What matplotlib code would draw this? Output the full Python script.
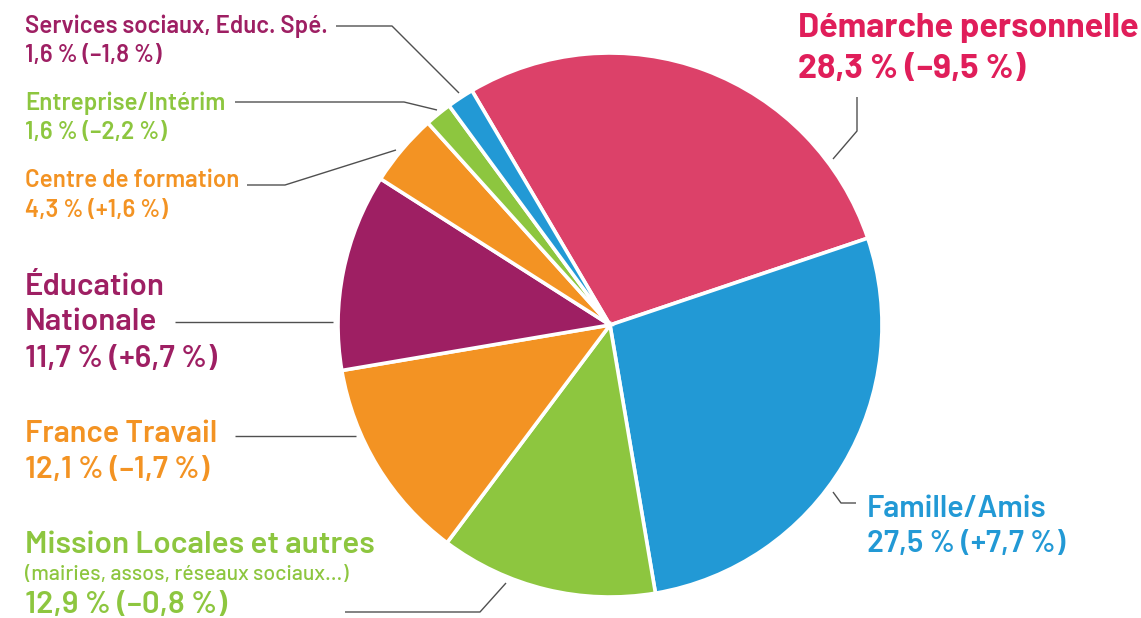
import matplotlib
matplotlib.use("Agg")
import matplotlib.pyplot as plt

# ---------------- data ----------------
categories = ["Démarche personnelle", "Famille/Amis", "Mission Locales et autres",
              "France Travail", "Éducation Nationale", "Centre de formation",
              "Entreprise/Intérim", "Services sociaux, Educ. Spé."]
shares = [28.3, 27.5, 12.9, 12.1, 11.7, 4.3, 1.6, 1.6]
changes = [-9.5, 7.7, -0.8, -1.7, 6.7, 1.6, -2.2, -1.8]
wedge_colors = ["#DC4169", "#2299D5", "#8DC63F", "#F39323", "#9E1F63",
                "#F39323", "#8DC63F", "#2299D5"]
label_colors = ["#E01E5A", "#2299D5", "#8DC63F", "#F39323", "#9E1F63",
                "#F39323", "#8DC63F", "#9E1F63"]
subtitle_mission = "(mairies, assos, réseaux sociaux…)"


def fmt(v):
    return f"{v:.1f}".replace(".", ",")


def value_text(s, c):
    sign = "+" if c > 0 else "–"
    return f"{fmt(s)} % ({sign}{fmt(abs(c))} %)"


W, H = 1141, 618
fig = plt.figure(figsize=(W / 100, H / 100), dpi=100)
FONT = ["Barlow", "DejaVu Sans"]

# ---------------- pie ----------------
cx, cy, R = 610, 325, 272
ax = fig.add_axes([(cx - R) / W, (H - cy - R) / H, 2 * R / W, 2 * R / H])
ax.pie(shares, colors=wedge_colors, startangle=120.5, counterclock=False,
       radius=1.0, wedgeprops=dict(edgecolor="white", linewidth=2.6))
ax.set_xlim(-1, 1)
ax.set_ylim(-1, 1)
ax.set_aspect("equal")
ax.axis("off")

# overlay in pixel coordinates
ov = fig.add_axes([0, 0, 1, 1], zorder=5)
ov.set_xlim(0, W)
ov.set_ylim(H, 0)
ov.axis("off")
ov.patch.set_alpha(0)

renderer = fig.canvas.get_renderer()


def fit_size(text, weight, target):
    t = ov.text(0, 0, text, fontsize=20, fontweight=weight, family=FONT)
    w = t.get_window_extent(renderer).width
    t.remove()
    return 20 * target / w


MED, BOLD, REG = 600, 700, 500
small = fit_size(categories[7], MED, 303)
mid = fit_size(categories[3], MED, 193)
fam = fit_size(categories[1], MED, 180)
mis = fit_size(categories[2], MED, 350)
edu = fit_size("Nationale", MED, 132)
big = fit_size(categories[0], BOLD, 342)
sub = fit_size(subtitle_mission, REG, 323)

layouts = {
    0: (798, [(categories[0], 37, big, BOLD), (value_text(shares[0], changes[0]), 78, big, BOLD)]),
    1: (867, [(categories[1], 517, fam, MED), (value_text(shares[1], changes[1]), 552, fam, MED)]),
    2: (25, [(categories[2], 553, mis, MED), (subtitle_mission, 580, sub, REG),
             (value_text(shares[2], changes[2]), 613, mis, MED)]),
    3: (25, [(categories[3], 442, mid, MED), (value_text(shares[3], changes[3]), 478, mid, MED)]),
    4: (25, [("Éducation", 295, edu, MED), ("Nationale", 330, edu, MED),
             (value_text(shares[4], changes[4]), 367, edu, MED)]),
    5: (25, [(categories[5], 187, small, MED), (value_text(shares[5], changes[5]), 217, small, MED)]),
    6: (25, [(categories[6], 110, small, MED), (value_text(shares[6], changes[6]), 139, small, MED)]),
    7: (25, [(categories[7], 33, small, MED), (value_text(shares[7], changes[7]), 62, small, MED)]),
}

for i, (x0, lines) in layouts.items():
    for txt, yb, size, wt in lines:
        ov.text(x0, yb, txt, fontsize=size, fontweight=wt, color=label_colors[i],
                family=FONT, ha="left", va="baseline")

# leader lines (pixel layout)
leaders = [
    [(857, 97), (857, 131), (833, 159)],
    [(833, 492), (841, 503), (856, 503)],
    [(345, 612), (480, 612), (506, 583)],
    [(235, 436), (356, 436)],
    [(175, 322), (333, 322)],
    [(247, 185), (285, 185), (396, 150)],
    [(235, 102), (404, 102), (437, 110)],
    [(336, 26), (392, 26), (459, 93)],
]
for pts in leaders:
    xs, ys = zip(*pts)
    ov.plot(xs, ys, color="#505050", lw=1.0, solid_capstyle="butt")

fig.savefig("out.png", dpi=100)
